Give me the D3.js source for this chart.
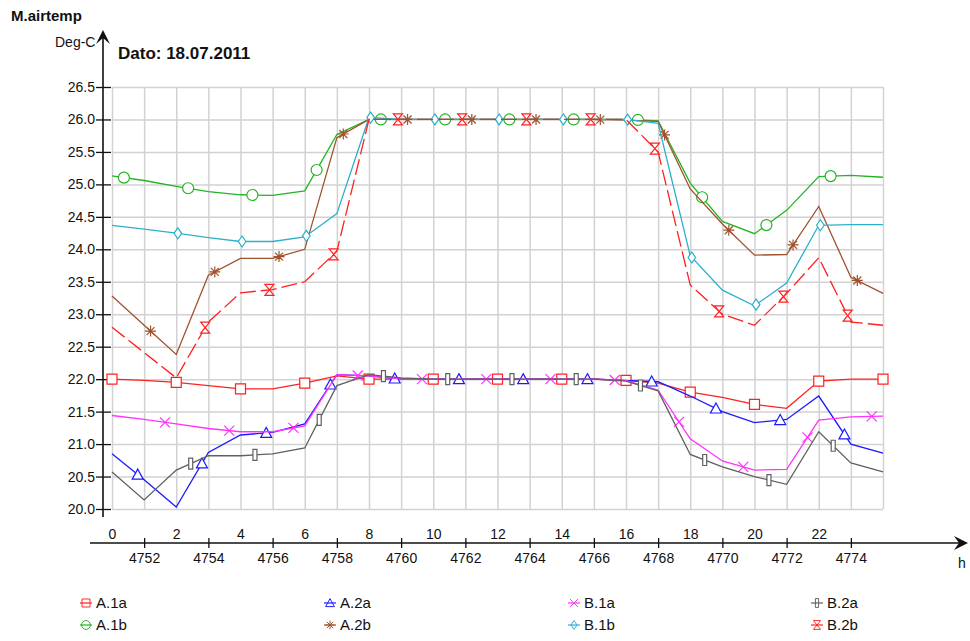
<!DOCTYPE html>
<meta charset="utf-8">
<style>
body { margin: 0; background: #fff; }
text { font-family: "Liberation Sans", Arial, sans-serif; fill: #111; }
.grid line { stroke: #d2d2d2; stroke-width: 1.5; }
.grid .domain { display: none; }
.axis-y text, .axis-x text { font-size: 14px; font-family: "Liberation Sans", Arial, sans-serif; fill: #111; }
.axis-y line, .axis-x line { stroke: #111; stroke-width: 1.3; }
.series { fill: none; stroke-width: 1.3; }
</style>
<body>
<script src="https://cdn.jsdelivr.net/npm/d3@7"></script>
<script>

// hours of the day (x values)
var hours = [0,1,2,3,4,5,6,7,8,9,10,11,12,13,14,15,16,17,18,19,20,21,22,23,24];
var hourLabels = [0,2,4,6,8,10,12,14,16,18,20,22];
var stepTicks = [1,3,5,7,9,11,13,15,17,19,21,23];
var stepLabels = [4752,4754,4756,4758,4760,4762,4764,4766,4768,4770,4772,4774];
var yTicks = [20.0,20.5,21.0,21.5,22.0,22.5,23.0,23.5,24.0,24.5,25.0,25.5,26.0,26.5];

// temperatures, Deg-C
var A1a = [22.0,21.98,21.95,21.9,21.85,21.85,21.94,22.05,22.0,22.0,22.0,22.0,22.0,22.0,22.0,22.0,21.98,21.94,21.8,21.72,21.61,21.55,21.97,22.0,22.0];
var A2a = [20.85,20.45,20.03,20.87,21.14,21.18,21.31,22.07,22.05,22.0,22.0,22.0,22.0,22.0,22.0,22.0,21.98,21.96,21.74,21.5,21.33,21.38,21.74,21.0,20.86];
var B1a = [21.44,21.38,21.31,21.24,21.19,21.19,21.28,22.07,22.05,22.0,22.0,22.0,22.0,22.0,22.0,22.0,21.98,21.83,21.08,20.74,20.6,20.61,21.37,21.42,21.43];
var B2a = [20.57,20.14,20.6,20.82,20.82,20.85,20.94,21.9,22.07,22.02,22.0,22.0,22.0,22.0,22.0,22.0,21.97,21.82,20.84,20.65,20.5,20.38,21.19,20.71,20.57];
var A1b = [25.13,25.06,24.97,24.89,24.84,24.83,24.9,25.77,26.0,26.0,26.0,26.0,26.0,26.0,26.0,26.0,26.0,25.98,25.02,24.43,24.24,24.6,25.12,25.14,25.11];
var A2b = [23.28,22.83,22.38,23.6,23.86,23.86,24.0,25.72,26.0,26.0,26.0,26.0,26.0,26.0,26.0,26.0,25.99,25.97,24.93,24.39,23.91,23.92,24.66,23.57,23.32];
var B1b = [24.37,24.31,24.25,24.18,24.12,24.12,24.19,24.55,26.03,26.0,26.0,26.0,26.0,26.0,26.0,26.0,26.0,25.94,23.9,23.37,23.13,23.48,24.37,24.38,24.38];
var B2b = [22.8,22.41,22.02,22.88,23.33,23.38,23.5,23.97,26.0,26.0,26.0,26.0,26.0,26.0,26.0,26.0,26.0,25.5,23.45,23.0,22.83,23.32,23.87,22.88,22.83];

var names = ["A.1a","A.2a","B.1a","B.2a","A.1b","A.2b","B.1b","B.2b"];
var values = [A1a, A2a, B1a, B2a, A1b, A2b, B1b, B2b];
var colors = ["#ff2020","#1a1aff","#ff33ff","#606060","#22b422","#a0522d","#2cb0cc","#ff2020"];
var dashes = [null,null,null,null,null,null,null,"16,5"];
// first marker hour for each series, then one every 2 hours
var markerStart = [0, 0.8, 1.65, 2.45, 0.37, 1.2, 2.05, 2.9];

var shapes = {
  "A.1a": "M-5,-5h10v10h-10z",
  "A.2a": "M0,-5.5L5.5,4.5H-5.5Z",
  "B.1a": "M-5,-5L5,5M-5,5L5,-5",
  "B.2a": "M-2,-5.5h4v11h-4z",
  "A.1b": "M5.5,0A5.5,5.5 0 1,1 -5.5,0A5.5,5.5 0 1,1 5.5,0Z",
  "A.2b": "M0,-5.5V5.5M-5.5,0H5.5M-4,-4L4,4M-4,4L4,-4",
  "B.1b": "M0,-5.5L3.8,0L0,5.5L-3.8,0Z",
  "B.2b": "M-4.5,-5.5H4.5L-4.5,5.5H4.5Z"
};

var svg = d3.select("body").append("svg")
    .attr("width", 970)
    .attr("height", 641);

var x = d3.scaleLinear().domain([0, 24]).range([112, 883]);
var y = d3.scaleLinear().domain([20, 26.5]).range([509, 87]);

// grid
svg.append("g")
    .attr("class", "grid")
    .attr("transform", "translate(0,509)")
    .call(d3.axisBottom(x).tickValues(hours).tickSize(-(509 - 87)).tickFormat(""));
svg.append("g")
    .attr("class", "grid")
    .attr("transform", "translate(112,0)")
    .call(d3.axisLeft(y).tickValues(yTicks).tickSize(-(883 - 112)).tickFormat(""));

// y axis
var yAxis = svg.append("g")
    .attr("class", "axis-y")
    .attr("transform", "translate(111,0)")
    .call(d3.axisLeft(y).tickValues(yTicks).tickSize(15).tickPadding(1).tickFormat(d3.format(".1f")));
yAxis.select(".domain").remove();

svg.append("line")
    .attr("x1", 103).attr("x2", 103)
    .attr("y1", 517).attr("y2", 32)
    .attr("stroke", "#111").attr("stroke-width", 1.6);
svg.append("path")
    .attr("d", "M96,44L103,30L110,44L103,38Z")
    .attr("fill", "#111");

// x axis
var xAxis = svg.append("g")
    .attr("class", "axis-x")
    .attr("transform", "translate(0,538)")
    .call(d3.axisBottom(x).tickValues(stepTicks).tickSize(10).tickPadding(5)
      .tickFormat(function(d, i) { return stepLabels[i]; }));
xAxis.select(".domain").remove();

svg.append("g")
    .attr("class", "axis-x")
    .attr("transform", "translate(0,543)")
    .call(d3.axisTop(x).tickValues(hourLabels).tickSize(0).tickPadding(4))
  .select(".domain").remove();

svg.append("line")
    .attr("x1", 90).attr("x2", 962)
    .attr("y1", 543).attr("y2", 543)
    .attr("stroke", "#111").attr("stroke-width", 1.6);
svg.append("path")
    .attr("d", "M968,543L954,536L959,543L954,550Z")
    .attr("fill", "#111");

svg.append("text").attr("x", 958).attr("y", 568)
    .style("font-size", "14px").text("h");

// titles
svg.append("text").attr("x", 11).attr("y", 21)
    .style("font-size", "15px").style("font-weight", "bold").text("M.airtemp");
svg.append("text").attr("x", 55).attr("y", 47)
    .style("font-size", "14px").text("Deg-C");
svg.append("text").attr("x", 118).attr("y", 59)
    .style("font-size", "17px").style("font-weight", "bold").text("Dato: 18.07.2011");

// series
var line = d3.line()
    .x(function(d, i) { return x(hours[i]); })
    .y(function(d) { return y(d); });

values.forEach(function(vals, s) {
  var col = colors[s];
  svg.append("path")
      .datum(vals)
      .attr("class", "series")
      .attr("stroke", col)
      .attr("stroke-dasharray", dashes[s])
      .attr("d", line);

  // markers sit along the polyline every 2 hours
  var along = d3.scaleLinear().domain(hours).range(vals);
  var mh = [];
  for (var h = markerStart[s]; h <= 24.01; h += 2) mh.push(h);
  svg.append("g").selectAll("path")
    .data(mh)
    .enter().append("path")
      .attr("d", shapes[names[s]])
      .attr("transform", function(h) { return "translate(" + x(h) + "," + y(along(h)) + ")"; })
      .attr("fill", (names[s] === "B.1a" || names[s] === "A.2b") ? "none" : "#fff")
      .attr("stroke", col)
      .attr("stroke-width", 1.2);
});

// legend
var legX = [86, 330, 574, 817];
var legY = [603, 625];
names.forEach(function(n, s) {
  var lx = legX[s % 4], ly = legY[Math.floor(s / 4)];
  var g = svg.append("g").attr("transform", "translate(" + lx + "," + ly + ")");
  g.append("line")
      .attr("x1", -6).attr("x2", 6)
      .attr("stroke", colors[s]).attr("stroke-width", 1.2);
  g.append("path")
      .attr("d", shapes[n])
      .attr("transform", "scale(0.8)")
      .attr("fill", "none")
      .attr("stroke", colors[s])
      .attr("stroke-width", 1.2);
  g.append("text")
      .attr("x", 10).attr("dy", "0.36em")
      .style("font-size", "15px")
      .text(n);
});

</script>
</body>
